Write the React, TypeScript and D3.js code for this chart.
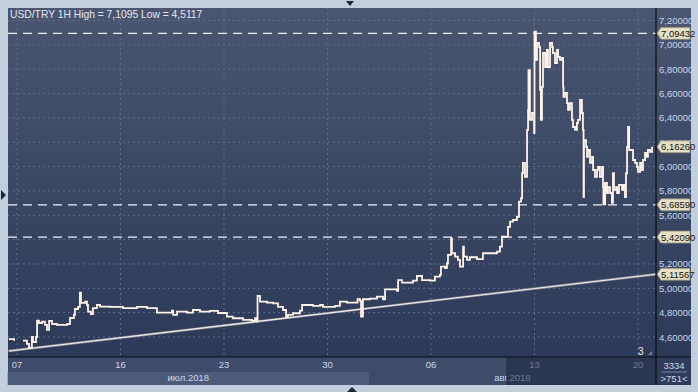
import React from 'react';
import * as d3 from 'd3';

// hourly USD/TRY, x in trading days from the "07" tick
const priceDays = [
  -0.39, -0.14, -0.1, 0.29, 0.48, 0.58, 0.63, 0.72, 0.77, 0.92, 0.97, 1.06, 1.21, 1.35, 1.45, 1.55, 1.69,
  1.93, 2.42, 2.56, 2.75, 2.8, 2.95, 3.04, 3.09, 3.29, 3.38, 3.43, 3.57, 3.67, 3.86, 4.01, 4.49, 5.12,
  5.8, 6.28, 6.67, 6.76, 7.25, 7.49, 7.54, 7.73, 8.21, 8.5, 8.84, 9.32, 9.71, 10.14, 10.43, 10.92, 11.35,
  11.5, 11.59, 11.62, 11.74, 12.08, 12.37, 12.61, 12.85, 13.0, 13.09, 13.33, 13.67, 13.77, 14.01, 14.3,
  14.64, 14.78, 15.02, 15.36, 15.6, 15.94, 16.43, 16.45, 16.57, 16.62, 16.71, 17.05, 17.39, 17.68, 17.78,
  18.36, 18.41, 18.6, 19.13, 19.32, 19.57, 19.95, 20.19, 20.43, 20.48, 20.68, 20.77, 20.82, 20.97, 21.01,
  21.16, 21.3, 21.4, 21.55, 21.59, 21.74, 21.88, 22.22, 22.51, 23.0, 23.19, 23.33, 23.43, 23.57, 23.72,
  23.82, 23.96, 24.15, 24.25, 24.35, 24.4, 24.44, 24.54, 24.64, 24.69, 24.71, 24.78, 24.88, 24.98, 25.0,
  25.07, 25.12, 25.22, 25.27, 25.31, 25.36, 25.41, 25.51, 25.6, 25.65, 25.75, 25.85, 25.89, 25.99, 26.09,
  26.14, 26.23, 26.33, 26.38, 26.4, 26.47, 26.57, 26.62, 26.71, 26.81, 26.86, 26.96, 27.05, 27.1, 27.2,
  27.29, 27.34, 27.37, 27.39, 27.49, 27.54, 27.58, 27.68, 27.78, 27.83, 27.92, 28.02, 28.07, 28.16, 28.26,
  28.31, 28.33, 28.41, 28.5, 28.55, 28.65, 28.74, 28.79, 28.84, 28.94, 28.99, 29.08, 29.23, 29.28, 29.37,
  29.42, 29.47, 29.52, 29.57, 29.66, 29.76, 29.86, 29.95, 30.0, 30.1, 30.19, 30.24, 30.34, 30.43, 30.48,
  30.58, 30.68,
];
const priceValues = [
  4.582, 4.57, NaN, 4.57, 4.543, 4.51, 4.512, 4.6, 4.559, 4.6, 4.734, 4.715, 4.726, 4.699, 4.658, 4.732, 4.707,
  4.699, 4.707, 4.756, 4.781, 4.83, 4.847, 4.964, 4.88, 4.89, 4.863, 4.808, 4.789, 4.838, 4.863, 4.849, 4.847, 4.838,
  4.847, 4.838, 4.838, 4.8, 4.8, 4.816, 4.781, 4.808, 4.8, 4.822, 4.808, 4.814, 4.797, 4.767, 4.754, 4.74, 4.732,
  4.754, 4.726, 4.937, 4.89, 4.882, 4.877, 4.847, 4.822, 4.765, 4.781, 4.795, 4.816, 4.863, 4.863, 4.855,
  4.863, 4.847, 4.847, 4.855, 4.89, 4.882, 4.882, 4.91, 4.896, 4.767, 4.91, 4.915, 4.931, 4.91, 4.992,
  4.98, 5.068, 5.046, 5.063, 5.101, 5.068, 5.063, 5.096, 5.11, 5.178, 5.165, 5.206, 5.274, 5.411, 5.288,
  5.26, 5.233, 5.178, 5.342, 5.26, 5.233, 5.255, 5.239, 5.288, 5.288, 5.301, 5.342, 5.424, 5.424, 5.504,
  5.547, 5.561, 5.588, 5.712, 5.74, 5.945, 6.03, 5.915, 6.301, 6.465, 6.793, 6.383, 6.44, 6.276, 7.109,
  6.876, 7.015, 6.982, 6.629, 6.383, 6.654, 6.933, 6.818, 6.958, 6.818, 7.015, 6.982, 6.933, 6.851, 6.958,
  6.9, 6.876, 6.892, 6.654, 6.572, 6.605, 6.522, 6.465, 6.522, 6.383, 6.325, 6.301, 6.358, 6.383, 6.547,
  6.44, 6.301, 5.75, 6.218, 6.161, 6.079, 6.136, 6.03, 6.079, 5.972, 5.915, 5.972, 5.997, 5.915, 5.997,
  5.832, 5.69, 5.865, 5.783, 5.832, 5.783, 5.701, 5.945, 5.808, 5.832, 5.783, 5.849, 5.808, 5.849, 5.75,
  5.945, 6.161, 6.325, 6.136, 6.136, 6.054, 6.03, 5.997, 5.956, 6.03, 5.972, 6.054, 6.112, 6.079, 6.136,
  6.12, 6.163,
];

const trendDays = [-0.4, 30.87];
const trendValues = [4.485, 5.11567];

const levelValues = [7.09432, 5.6859, 5.4209];
const lastPrice = 6.1626;

const yTicks = [4.6, 4.8, 5.0, 5.2, 5.4, 5.6, 5.8, 6.0, 6.2, 6.4, 6.6, 6.8, 7.0, 7.2];
const dateTicks = ['07', '16', '23', '30', '06', '13', '20'];
const dateTickDays = [0, 5, 10, 15, 20, 25, 30];
const monthLabels = ['июл.2018', 'авг.2018'];
const monthBounds = [-0.45, 17, 30.87];

const W = 698;
const H = 392;
const left = 8, top = 8, right = 656, bottom = 357;
const axisRight = 691, footer = 385;

const fmt = (v: number, d = 5) => v.toFixed(d).replace('.', ',');

export default function App() {
  const x = d3.scaleLinear().domain([0, 30]).range([17, 638]);
  const y = d3.scaleLinear().domain([4.6, 7.2]).range([337, 20.5]);

  const pts: [number, number][] = priceDays.map((d, i) => [d, priceValues[i]]);
  const line = d3
    .line<[number, number]>()
    .defined((d) => !isNaN(d[1]))
    .curve(d3.curveStepAfter)
    .x((d) => x(d[0]))
    .y((d) => y(d[1]));

  const trendPts: [number, number][] = trendDays.map((d, i) => [d, trendValues[i]]);
  const trendLine = d3.line<[number, number]>().x((d) => x(d[0])).y((d) => y(d[1]));

  const font = '"Liberation Sans", Arial, sans-serif';
  const labelColor = '#c9d6ec';

  const tag = (v: number, key: string) => {
    const cy = y(v);
    return (
      <g key={key}>
        <path
          d={`M657,${cy} L661,${cy - 6} L690,${cy - 6} L690,${cy + 6} L661,${cy + 6} Z`}
          fill="#e6dfc3"
          stroke="#8a8672"
          strokeWidth={0.8}
        />
        <text x={661} y={cy + 3.5} fontSize={9.5} fill="#141414" fontFamily={font}>
          {fmt(v)}
        </text>
      </g>
    );
  };

  return (
    <svg width={W} height={H} style={{ position: 'absolute', left: 0, top: 0 }}>
      <defs>
        <linearGradient id="bg" x1="0" y1="0" x2="0" y2="1">
          <stop offset="0" stopColor="#4a5670" />
          <stop offset="1" stopColor="#2c3a58" />
        </linearGradient>
        <clipPath id="plot">
          <rect x={left} y={top} width={right - left} height={bottom - top} />
        </clipPath>
      </defs>
      <rect width={W} height={H} fill="#c2cedb" />
      <rect x={left} y={top} width={axisRight - left} height={bottom - top} fill="url(#bg)" />

      {/* grid */}
      {yTicks.map((t) => (
        <line key={'h' + t} x1={left} x2={right} y1={y(t)} y2={y(t)} stroke="#5d6d8c" strokeDasharray="2,3" />
      ))}
      {dateTickDays.map((d) => (
        <line key={'v' + d} x1={x(d)} x2={x(d)} y1={top} y2={bottom} stroke="#5d6d8c" strokeDasharray="2,3" />
      ))}

      <g clipPath="url(#plot)">
        {levelValues.map((v) => (
          <line key={'l' + v} x1={left} x2={right} y1={y(v)} y2={y(v)} stroke="#f0f0f0" strokeWidth={1.3} strokeDasharray="9,6" />
        ))}
        <path d={trendLine(trendPts) || ''} fill="none" stroke="#8c8c94" strokeWidth={2.4} />
        <path d={trendLine(trendPts) || ''} fill="none" stroke="#eeeeee" strokeWidth={1.1} />
        <path d={line(pts) || ''} fill="none" stroke="#fff3ea" strokeWidth={1.8} />
      </g>

      <text x={10} y={18} fontSize={10.3} fill="#e2e8f2" fontFamily={font}>
        USD/TRY 1H High = 7,1095 Low = 4,5117
      </text>
      <text x={638} y={355} fontSize={10} fill="#f0f0f0" fontFamily={font}>3</text>
      <path d="M648,355 L652,351 L652,355 Z" fill="#7a8498" />

      {/* right axis */}
      {yTicks.map((t) => (
        <text key={'yt' + t} x={659} y={y(t) + 3.5} fontSize={9.5} fill={labelColor} fontFamily={font}>
          {fmt(t)}
        </text>
      ))}
      {levelValues.map((v) => tag(v, 'tg' + v))}
      {tag(trendValues[1], 'trend')}
      {tag(lastPrice, 'last')}

      {/* footer */}
      <rect x={left} y={bottom} width={right - left} height={footer - bottom} fill="#3e4c69" />
      <rect x={x(monthBounds[0])} y={372} width={x(monthBounds[1]) - x(monthBounds[0])} height={footer - 372} fill="#4b5b79" />
      {dateTicks.map((t, i) => (
        <text key={'dt' + i} x={x(dateTickDays[i])} y={368} fontSize={9.5} fill={labelColor} textAnchor="middle" fontFamily={font}>
          {t}
        </text>
      ))}
      {monthLabels.map((m, i) => (
        <text
          key={m}
          x={(x(monthBounds[i]) + x(monthBounds[i + 1])) / 2}
          y={381}
          fontSize={9.5}
          fill={labelColor}
          textAnchor="middle"
          fontFamily={font}
        >
          {m}
        </text>
      ))}
      <rect x={507} y={bottom} width={right - 507} height={footer - bottom} fill="#1c2740" opacity={0.55} />
      <line x1={507} x2={507} y1={bottom} y2={footer} stroke="#222c40" />

      <rect x={right} y={bottom} width={axisRight - right} height={footer - bottom} fill="#2f3c5a" />
      <text x={674} y={369} fontSize={9.5} fill={labelColor} textAnchor="middle" fontFamily={font}>3334</text>
      <line x1={662} x2={687} y1={372} y2={372} stroke="#8a98b4" strokeWidth={0.8} />
      <text x={674} y={382} fontSize={9.5} fill={labelColor} textAnchor="middle" fontFamily={font}>&gt;751&lt;</text>

      <line x1={right} x2={right} y1={top} y2={footer} stroke="#0c0c10" strokeWidth={1.2} />
      <line x1={left} x2={axisRight} y1={bottom} y2={bottom} stroke="#0c0c10" strokeWidth={1.2} />

      {/* scroll markers */}
      <path d="M346,1 L354,1 L350,6 Z" fill="#1d2638" />
      <path d="M347,392 L357,392 L352,387 Z" fill="#1d2638" />
      <path d="M1,190 L6,195 L1,200 Z" fill="#1d2638" />
    </svg>
  );
}
